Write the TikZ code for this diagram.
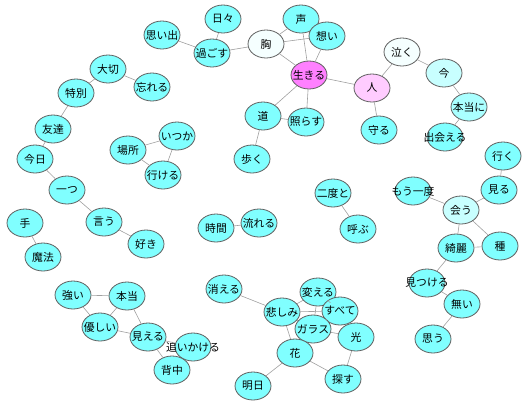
\documentclass[tikz,border=0pt]{standalone}
\usepackage{fontspec}
\usepackage{xcolor}
\usepackage{tikz}
\usetikzlibrary{shapes.geometric}
\newfontfamily\jpfont{Noto Sans CJK JP}
\definecolor{wordCyan}{RGB}{128,255,255}
\definecolor{wordMid}{RGB}{170,255,255}
\definecolor{wordLight}{RGB}{200,255,255}
\definecolor{wordPale}{RGB}{245,255,255}
\definecolor{wordMagenta}{RGB}{255,128,255}
\definecolor{wordPink}{RGB}{255,204,255}
\definecolor{rimgray}{RGB}{95,95,95}
\definecolor{linkgray}{RGB}{160,160,160}

\tikzset{
    word/.style={ellipse, draw=rimgray, fill=wordCyan, line width=0.8pt,
        minimum width=36pt, minimum height=28pt, inner sep=0pt,
        font=\jpfont\fontsize{10.8}{11}\selectfont,
        execute at begin node={\hbox to 0pt\bgroup\hss},
        execute at end node={\hss\egroup}},
    link/.style={draw=linkgray, line width=0.6pt},
}

\begin{document}
\begin{tikzpicture}[x=1pt,y=-1pt]
\useasboundingbox (0,0) rectangle (529,405);

% =========================
% 1. top: mune / ikiru
% =========================
\node[word] (omoide) at (162,35) {思い出};
\node[word] (hibi) at (223,19) {日々};
\node[word] (sugosu) at (212,53) {過ごす};
\node[word, fill=wordPale] (mune) at (266,44) {胸};
\node[word] (koe) at (301,19) {声};
\node[word] (omoi) at (327,36) {想い};
\node[word, fill=wordMagenta] (ikiru) at (309,75) {生きる};
\node[word] (michi) at (263,116) {道};
\node[word] (terasu) at (306,122) {照らす};
\node[word] (aruku) at (252,159) {歩く};

\draw[link] (omoide) -- (sugosu);
\draw[link] (hibi) -- (sugosu);
\draw[link] (sugosu) -- (mune);
\draw[link] (mune) -- (koe);
\draw[link] (mune) -- (omoi);
\draw[link] (mune) -- (ikiru);
\draw[link] (koe) -- (ikiru);
\draw[link] (omoi) -- (ikiru);
\draw[link] (ikiru) -- (michi);
\draw[link] (ikiru) -- (terasu);
\draw[link] (michi) -- (terasu);
\draw[link] (michi) -- (aruku);

% =========================
% 2. top right: hito
% =========================
\node[word, fill=wordPale] (naku) at (402,52) {泣く};
\node[word, fill=wordPink] (hito) at (372,88) {人};
\node[word, fill=wordLight] (ima) at (444,73) {今};
\node[word, fill=wordMid] (hontouni) at (469,107) {本当に};
\node[word] (mamoru) at (379,130) {守る};
\node[word] (deaeru) at (445,137) {出会える};

\draw[link] (ikiru) -- (hito);
\draw[link] (naku) -- (hito);
\draw[link] (naku) -- (ima);
\draw[link] (ima) -- (hontouni);
\draw[link] (hontouni) -- (deaeru);
\draw[link] (hito) -- (mamoru);

% =========================
% 3. left: tomodachi
% =========================
\node[word] (taisetsu) at (108,69) {大切};
\node[word] (wasureru) at (152,87) {忘れる};
\node[word] (tokubetsu) at (76,93) {特別};
\node[word] (tomodachi) at (53,129) {友達};
\node[word] (kyou) at (35,159) {今日};
\node[word] (hitotsu) at (67,190) {一つ};
\node[word] (iu) at (104,222) {言う};
\node[word] (suki) at (146,244) {好き};
\node[word] (te) at (25,223) {手};
\node[word] (mahou) at (43,257) {魔法};

\draw[link] (taisetsu) -- (wasureru);
\draw[link] (taisetsu) -- (tokubetsu);
\draw[link] (tokubetsu) -- (tomodachi);
\draw[link] (tomodachi) -- (kyou);
\draw[link] (kyou) -- (hitotsu);
\draw[link] (hitotsu) -- (iu);
\draw[link] (iu) -- (suki);
\draw[link] (te) -- (mahou);

% basho
\node[word] (basho) at (128,150) {場所};
\node[word] (itsuka) at (177,136) {いつか};
\node[word] (ikeru) at (163,175) {行ける};

\draw[link] (basho) -- (itsuka);
\draw[link] (basho) -- (ikeru);
\draw[link] (itsuka) -- (ikeru);

% =========================
% 4. middle pairs
% =========================
\node[word] (jikan) at (216,228) {時間};
\node[word] (nagareru) at (259,223) {流れる};
\node[word] (nidoto) at (333,193) {二度と};
\node[word] (yobu) at (358,229) {呼ぶ};

\draw[link] (jikan) -- (nagareru);
\draw[link] (nidoto) -- (yobu);

% =========================
% 5. right: au
% =========================
\node[word] (iku) at (503,156) {行く};
\node[word] (miru) at (499,190) {見る};
\node[word] (moichido) at (413,191) {もう一度};
\node[word, fill=wordLight] (au) at (461,210) {会う};
\node[word] (kirei) at (456,248) {綺麗};
\node[word] (tane) at (500,246) {種};
\node[word] (mitsukeru) at (427,283) {見つける};
\node[word] (nai) at (462,304) {無い};
\node[word] (omou) at (433,339) {思う};

\draw[link] (iku) -- (miru);
\draw[link] (miru) -- (au);
\draw[link] (moichido) -- (au);
\draw[link] (au) -- (kirei);
\draw[link] (au) -- (tane);
\draw[link] (kirei) -- (tane);
\draw[link] (kirei) -- (mitsukeru);
\draw[link] (mitsukeru) -- (nai);
\draw[link] (nai) -- (omou);

% =========================
% 6. bottom left: hontou
% =========================
\node[word] (tsuyoi) at (73,295) {強い};
\node[word] (hontou) at (127,296) {本当};
\node[word] (yasashii) at (100,327) {優しい};
\node[word] (mieru) at (148,337) {見える};
\node[word] (oikakeru) at (193,347) {追いかける};
\node[word] (senaka) at (172,370) {背中};

\draw[link] (tsuyoi) -- (hontou);
\draw[link] (tsuyoi) -- (yasashii);
\draw[link] (hontou) -- (yasashii);
\draw[link] (hontou) -- (mieru);
\draw[link] (yasashii) -- (mieru);
\draw[link] (mieru) -- (oikakeru);
\draw[link] (mieru) -- (senaka);

% =========================
% 7. bottom middle: hana
% =========================
\node[word] (kieru) at (224,289) {消える};
\node[word] (kanashimi) at (282,312) {悲しみ};
\node[word] (kaeru) at (318,292) {変える};
\node[word] (subete) at (340,311) {すべて};
\node[word] (garasu) at (313,329) {ガラス};
\node[word] (hikari) at (356,337) {光};
\node[word] (hana) at (295,353) {花};
\node[word] (ashita) at (253,386) {明日};
\node[word] (sagasu) at (343,379) {探す};

\draw[link] (kieru) -- (kanashimi);
\draw[link] (kanashimi) -- (kaeru);
\draw[link] (kanashimi) -- (subete);
\draw[link] (kanashimi) -- (garasu);
\draw[link] (kanashimi) -- (hana);
\draw[link] (kaeru) -- (subete);
\draw[link] (kaeru) -- (garasu);
\draw[link] (subete) -- (garasu);
\draw[link] (subete) -- (hikari);
\draw[link] (garasu) -- (hikari);
\draw[link] (hikari) -- (sagasu);
\draw[link] (hana) -- (sagasu);
\draw[link] (hana) -- (ashita);

\end{tikzpicture}
\end{document}
